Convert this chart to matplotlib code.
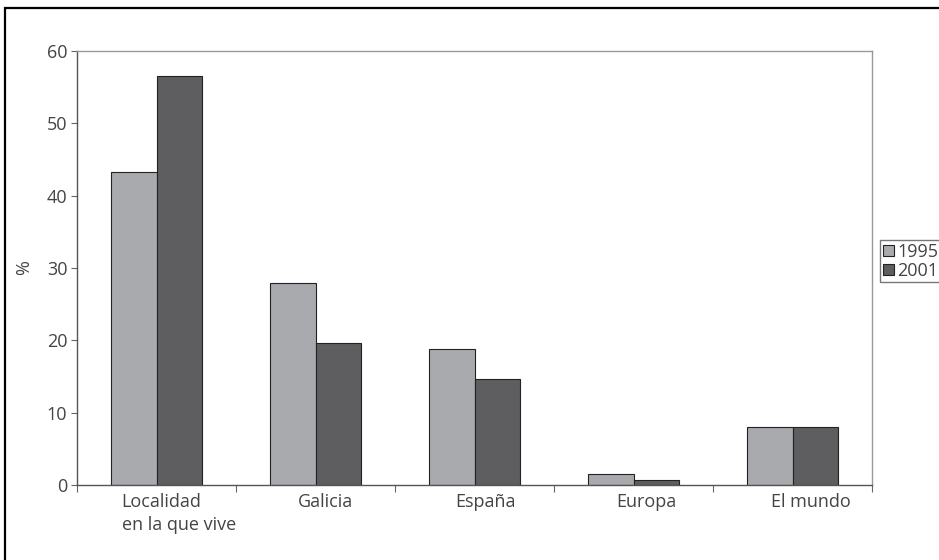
import matplotlib.pyplot as plt
import numpy as np
from matplotlib.patches import Rectangle

categories = ["Localidad\nen la que vive", "Galicia", "España", "Europa", "El mundo"]
v1995 = [43.3, 27.9, 18.8, 1.5, 8.0]
v2001 = [56.6, 19.6, 14.7, 0.7, 8.0]
yticks = [0, 10, 20, 30, 40, 50, 60]

plt.rcParams['font.family'] = ['Open Sans', 'DejaVu Sans']
txt = '#444444'

fig = plt.figure(figsize=(9.39, 5.6), dpi=100)
ax = fig.add_axes([77/939, 75/560, 795/939, 434/560])

x = np.arange(len(categories))
w = 0.285
b1 = ax.bar(x - w/2, v1995, w, color='#a9aaae', edgecolor='#222222', linewidth=0.8, label='1995')
b2 = ax.bar(x + w/2, v2001, w, color='#5e5e60', edgecolor='#222222', linewidth=0.8, label='2001')

ax.set_xlim(-0.5, len(categories) - 0.5)
ax.set_ylim(0, 60)
ax.set_yticks(yticks)
ax.set_xticks(np.arange(-0.5, len(categories)))
ax.set_xticklabels([])
ax.tick_params(axis='x', length=5, color='#666666', direction='out')
ax.tick_params(axis='y', labelsize=13, labelcolor=txt, length=4, color='#666666', pad=3)
ax.set_ylabel('%', fontsize=13, color=txt, labelpad=10)

# category labels sit a bit right of the bar groups in the original
for i, (lab, dx) in enumerate(zip(categories, [16, 7, 8, 9, 13])):
    ax.annotate(lab, xy=(x[i], 0), xycoords=('data', 'axes fraction'),
                xytext=(dx, -6), textcoords='offset points', ha='center', va='top',
                fontsize=13, color=txt, linespacing=1.3, multialignment='left')

for s in ['left', 'bottom']:
    ax.spines[s].set_color('#555555')
    ax.spines[s].set_linewidth(1.0)
for s in ['top', 'right']:
    ax.spines[s].set_color('#999999')
    ax.spines[s].set_linewidth(1.0)

leg = fig.legend(handles=[b1, b2], loc='upper left', bbox_to_anchor=(880/939, 1 - 240/560),
                 fontsize=13, frameon=True, fancybox=False, handlelength=0.6, handleheight=0.6,
                 handletextpad=0.2, borderpad=0.15, labelspacing=0.05, borderaxespad=0)
leg.get_frame().set_edgecolor('#555555')
leg.get_frame().set_linewidth(1.0)
for t in leg.get_texts():
    t.set_color(txt)

# scanned page frame
fig.patches.append(Rectangle((5/939, -0.1), 1.2, 1 - 8/560 + 0.1, transform=fig.transFigure,
                             fill=False, edgecolor='black', linewidth=1.6))

fig.savefig('out.png', dpi=100)
